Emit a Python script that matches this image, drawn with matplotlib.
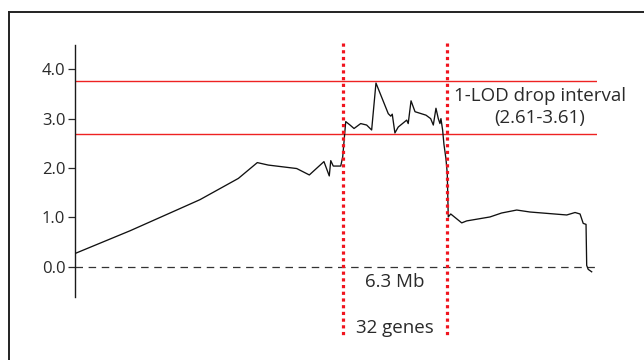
import matplotlib
matplotlib.use('Agg')
import matplotlib.pyplot as plt
from matplotlib.lines import Line2D

plt.rcParams['font.family'] = ['Open Sans', 'DejaVu Sans']

# LOD profile along the chromosome (position in Mb)
pos = [0.0, 3.31, 6.32, 7.52, 9.83, 10.97, 11.63, 13.34, 14.10, 14.98, 15.30,
       15.39, 15.54, 15.99, 16.11, 16.29, 16.55, 16.79, 16.99, 17.19, 17.55,
       17.85, 18.11, 18.85, 19.00, 19.09, 19.25, 19.45, 19.96, 20.05, 20.22,
       20.46, 21.12, 21.40, 21.56, 21.72, 21.86, 21.96, 22.02, 22.12, 22.20,
       22.32, 22.40, 22.46, 22.61, 23.27, 23.57, 24.97, 25.67, 26.58, 27.38,
       29.59, 30.09, 30.39, 30.58, 30.75, 30.79, 30.88, 31.09]
lod = [0.27, 0.73, 1.18, 1.36, 1.79, 2.11, 2.06, 1.99, 1.86, 2.13, 1.84,
       2.15, 2.04, 2.04, 2.23, 2.94, 2.87, 2.80, 2.85, 2.90, 2.87,
       2.77, 3.72, 3.10, 3.05, 3.09, 2.71, 2.83, 2.97, 2.90, 3.36,
       3.14, 3.07, 3.00, 2.87, 3.21, 3.00, 2.90, 3.00, 2.77, 2.48,
       2.19, 1.89, 1.01, 1.07, 0.89, 0.93, 1.01, 1.09, 1.15, 1.11,
       1.05, 1.10, 1.07, 0.88, 0.86, 0.03, -0.05, -0.10]

lod_limits = [3.77, 2.68]          # 1-LOD drop thresholds
interval = [16.1, 22.4]            # interval bounds (6.3 Mb)
yticks = [0.0, 1.0, 2.0, 3.0, 4.0]

fig = plt.figure(figsize=(6.44, 3.6), dpi=100)
ax = fig.add_axes([75 / 644, 1 - 297 / 360, 522 / 644, 252 / 360])

ax.plot(pos, lod, color='#111111', lw=0.95, zorder=3)
for y in lod_limits:
    ax.axhline(y, color='#ee2222', lw=1.0, zorder=2)
ax.plot([0, 31.29], [0, 0], color='#333333', lw=0.9, dashes=(6, 4.5), zorder=1)
for x in interval:
    ax.plot([x, x], [4.53, -1.40], color='#f0141e', lw=2.3,
            linestyle=(0, (1, 1.1)), clip_on=False, zorder=4)

ax.set_xlim(0, 31.41)
ax.set_ylim(-0.61, 4.49)
ax.set_yticks(yticks)
ax.set_yticklabels(['%.1f' % v for v in yticks], fontsize=12, color='#2a2a2a')
ax.tick_params(axis='y', length=5, width=0.9, color='#2a2a2a', pad=2)
ax.set_xticks([])
for side in ['top', 'right', 'bottom']:
    ax.spines[side].set_visible(False)
ax.spines['left'].set_linewidth(1.0)
ax.spines['left'].set_color('#1a1a1a')

mid = sum(interval) / 2
ax.text(mid, -0.30, '6.3 Mb', ha='center', va='center', fontsize=13.5,
        color='#2a2a2a', clip_on=False)
ax.text(mid, -1.23, '32 genes', ha='center', va='center', fontsize=13.5,
        color='#2a2a2a', clip_on=False)
ax.text(27.98, 3.46, '1-LOD drop interval', ha='center', va='center',
        fontsize=13.5, color='#2a2a2a', clip_on=False)
ax.text(27.98, 3.02, '(2.61-3.61)', ha='center', va='center',
        fontsize=13.5, color='#2a2a2a', clip_on=False)

# frame on top and left edges
fig.add_artist(Line2D([9 / 644, 1], [1 - 12 / 360, 1 - 12 / 360],
                      color='#222222', lw=1.4))
fig.add_artist(Line2D([9 / 644, 9 / 644], [0, 1 - 12 / 360],
                      color='#222222', lw=1.4))

fig.savefig('out.png', dpi=100)
